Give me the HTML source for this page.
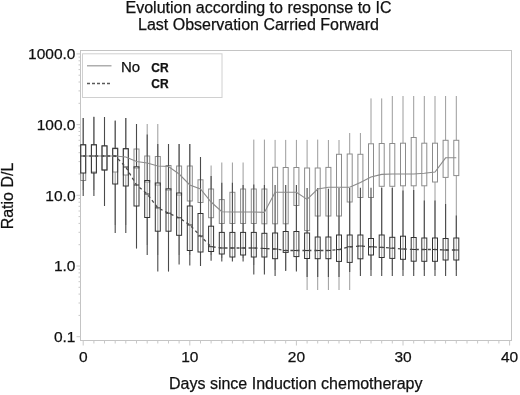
<!DOCTYPE html>
<html><head><meta charset="utf-8"><style>
html,body{margin:0;padding:0;background:#fff;}
body{width:520px;height:395px;position:relative;overflow:hidden;font-family:"Liberation Sans",sans-serif;color:#111;}
#w{position:absolute;left:0;top:0;width:520px;height:395px;background:#fff;filter:grayscale(1);}
.t{position:absolute;white-space:nowrap;line-height:1;-webkit-text-stroke:0.25px #111;}
svg{position:absolute;left:0;top:0;}
</style></head><body><div id="w">
<svg width="520" height="395" viewBox="0 0 520 395">
<rect x="80.5" y="50.5" width="431" height="290" fill="none" stroke="#c4c4c4" stroke-width="1"/>
<line x1="76.5" y1="336.7" x2="80.5" y2="336.7" stroke="#c8c8c8" stroke-width="1"/>
<line x1="78.5" y1="315.4" x2="80.5" y2="315.4" stroke="#c8c8c8" stroke-width="1"/>
<line x1="78.5" y1="303.0" x2="80.5" y2="303.0" stroke="#c8c8c8" stroke-width="1"/>
<line x1="78.5" y1="294.1" x2="80.5" y2="294.1" stroke="#c8c8c8" stroke-width="1"/>
<line x1="78.5" y1="287.3" x2="80.5" y2="287.3" stroke="#c8c8c8" stroke-width="1"/>
<line x1="78.5" y1="281.7" x2="80.5" y2="281.7" stroke="#c8c8c8" stroke-width="1"/>
<line x1="78.5" y1="277.0" x2="80.5" y2="277.0" stroke="#c8c8c8" stroke-width="1"/>
<line x1="78.5" y1="272.9" x2="80.5" y2="272.9" stroke="#c8c8c8" stroke-width="1"/>
<line x1="78.5" y1="269.2" x2="80.5" y2="269.2" stroke="#c8c8c8" stroke-width="1"/>
<line x1="76.5" y1="266.0" x2="80.5" y2="266.0" stroke="#c8c8c8" stroke-width="1"/>
<line x1="78.5" y1="244.7" x2="80.5" y2="244.7" stroke="#c8c8c8" stroke-width="1"/>
<line x1="78.5" y1="232.3" x2="80.5" y2="232.3" stroke="#c8c8c8" stroke-width="1"/>
<line x1="78.5" y1="223.4" x2="80.5" y2="223.4" stroke="#c8c8c8" stroke-width="1"/>
<line x1="78.5" y1="216.6" x2="80.5" y2="216.6" stroke="#c8c8c8" stroke-width="1"/>
<line x1="78.5" y1="211.0" x2="80.5" y2="211.0" stroke="#c8c8c8" stroke-width="1"/>
<line x1="78.5" y1="206.3" x2="80.5" y2="206.3" stroke="#c8c8c8" stroke-width="1"/>
<line x1="78.5" y1="202.2" x2="80.5" y2="202.2" stroke="#c8c8c8" stroke-width="1"/>
<line x1="78.5" y1="198.5" x2="80.5" y2="198.5" stroke="#c8c8c8" stroke-width="1"/>
<line x1="76.5" y1="195.3" x2="80.5" y2="195.3" stroke="#c8c8c8" stroke-width="1"/>
<line x1="78.5" y1="174.0" x2="80.5" y2="174.0" stroke="#c8c8c8" stroke-width="1"/>
<line x1="78.5" y1="161.6" x2="80.5" y2="161.6" stroke="#c8c8c8" stroke-width="1"/>
<line x1="78.5" y1="152.7" x2="80.5" y2="152.7" stroke="#c8c8c8" stroke-width="1"/>
<line x1="78.5" y1="145.9" x2="80.5" y2="145.9" stroke="#c8c8c8" stroke-width="1"/>
<line x1="78.5" y1="140.3" x2="80.5" y2="140.3" stroke="#c8c8c8" stroke-width="1"/>
<line x1="78.5" y1="135.6" x2="80.5" y2="135.6" stroke="#c8c8c8" stroke-width="1"/>
<line x1="78.5" y1="131.5" x2="80.5" y2="131.5" stroke="#c8c8c8" stroke-width="1"/>
<line x1="78.5" y1="127.8" x2="80.5" y2="127.8" stroke="#c8c8c8" stroke-width="1"/>
<line x1="76.5" y1="124.6" x2="80.5" y2="124.6" stroke="#c8c8c8" stroke-width="1"/>
<line x1="78.5" y1="103.3" x2="80.5" y2="103.3" stroke="#c8c8c8" stroke-width="1"/>
<line x1="78.5" y1="90.9" x2="80.5" y2="90.9" stroke="#c8c8c8" stroke-width="1"/>
<line x1="78.5" y1="82.0" x2="80.5" y2="82.0" stroke="#c8c8c8" stroke-width="1"/>
<line x1="78.5" y1="75.2" x2="80.5" y2="75.2" stroke="#c8c8c8" stroke-width="1"/>
<line x1="78.5" y1="69.6" x2="80.5" y2="69.6" stroke="#c8c8c8" stroke-width="1"/>
<line x1="78.5" y1="64.9" x2="80.5" y2="64.9" stroke="#c8c8c8" stroke-width="1"/>
<line x1="78.5" y1="60.8" x2="80.5" y2="60.8" stroke="#c8c8c8" stroke-width="1"/>
<line x1="78.5" y1="57.1" x2="80.5" y2="57.1" stroke="#c8c8c8" stroke-width="1"/>
<line x1="76.5" y1="53.9" x2="80.5" y2="53.9" stroke="#c8c8c8" stroke-width="1"/>
<line x1="83.2" y1="340.5" x2="83.2" y2="345.5" stroke="#c8c8c8" stroke-width="1"/>
<line x1="93.9" y1="340.5" x2="93.9" y2="343.5" stroke="#c8c8c8" stroke-width="1"/>
<line x1="104.5" y1="340.5" x2="104.5" y2="343.5" stroke="#c8c8c8" stroke-width="1"/>
<line x1="115.2" y1="340.5" x2="115.2" y2="343.5" stroke="#c8c8c8" stroke-width="1"/>
<line x1="125.8" y1="340.5" x2="125.8" y2="343.5" stroke="#c8c8c8" stroke-width="1"/>
<line x1="136.5" y1="340.5" x2="136.5" y2="343.5" stroke="#c8c8c8" stroke-width="1"/>
<line x1="147.2" y1="340.5" x2="147.2" y2="343.5" stroke="#c8c8c8" stroke-width="1"/>
<line x1="157.8" y1="340.5" x2="157.8" y2="343.5" stroke="#c8c8c8" stroke-width="1"/>
<line x1="168.5" y1="340.5" x2="168.5" y2="343.5" stroke="#c8c8c8" stroke-width="1"/>
<line x1="179.1" y1="340.5" x2="179.1" y2="343.5" stroke="#c8c8c8" stroke-width="1"/>
<line x1="189.8" y1="340.5" x2="189.8" y2="345.5" stroke="#c8c8c8" stroke-width="1"/>
<line x1="200.5" y1="340.5" x2="200.5" y2="343.5" stroke="#c8c8c8" stroke-width="1"/>
<line x1="211.1" y1="340.5" x2="211.1" y2="343.5" stroke="#c8c8c8" stroke-width="1"/>
<line x1="221.8" y1="340.5" x2="221.8" y2="343.5" stroke="#c8c8c8" stroke-width="1"/>
<line x1="232.4" y1="340.5" x2="232.4" y2="343.5" stroke="#c8c8c8" stroke-width="1"/>
<line x1="243.1" y1="340.5" x2="243.1" y2="343.5" stroke="#c8c8c8" stroke-width="1"/>
<line x1="253.8" y1="340.5" x2="253.8" y2="343.5" stroke="#c8c8c8" stroke-width="1"/>
<line x1="264.4" y1="340.5" x2="264.4" y2="343.5" stroke="#c8c8c8" stroke-width="1"/>
<line x1="275.1" y1="340.5" x2="275.1" y2="343.5" stroke="#c8c8c8" stroke-width="1"/>
<line x1="285.7" y1="340.5" x2="285.7" y2="343.5" stroke="#c8c8c8" stroke-width="1"/>
<line x1="296.4" y1="340.5" x2="296.4" y2="345.5" stroke="#c8c8c8" stroke-width="1"/>
<line x1="307.1" y1="340.5" x2="307.1" y2="343.5" stroke="#c8c8c8" stroke-width="1"/>
<line x1="317.7" y1="340.5" x2="317.7" y2="343.5" stroke="#c8c8c8" stroke-width="1"/>
<line x1="328.4" y1="340.5" x2="328.4" y2="343.5" stroke="#c8c8c8" stroke-width="1"/>
<line x1="339.0" y1="340.5" x2="339.0" y2="343.5" stroke="#c8c8c8" stroke-width="1"/>
<line x1="349.7" y1="340.5" x2="349.7" y2="343.5" stroke="#c8c8c8" stroke-width="1"/>
<line x1="360.4" y1="340.5" x2="360.4" y2="343.5" stroke="#c8c8c8" stroke-width="1"/>
<line x1="371.0" y1="340.5" x2="371.0" y2="343.5" stroke="#c8c8c8" stroke-width="1"/>
<line x1="381.7" y1="340.5" x2="381.7" y2="343.5" stroke="#c8c8c8" stroke-width="1"/>
<line x1="392.3" y1="340.5" x2="392.3" y2="343.5" stroke="#c8c8c8" stroke-width="1"/>
<line x1="403.0" y1="340.5" x2="403.0" y2="345.5" stroke="#c8c8c8" stroke-width="1"/>
<line x1="413.7" y1="340.5" x2="413.7" y2="343.5" stroke="#c8c8c8" stroke-width="1"/>
<line x1="424.3" y1="340.5" x2="424.3" y2="343.5" stroke="#c8c8c8" stroke-width="1"/>
<line x1="435.0" y1="340.5" x2="435.0" y2="343.5" stroke="#c8c8c8" stroke-width="1"/>
<line x1="445.6" y1="340.5" x2="445.6" y2="343.5" stroke="#c8c8c8" stroke-width="1"/>
<line x1="456.3" y1="340.5" x2="456.3" y2="343.5" stroke="#c8c8c8" stroke-width="1"/>
<line x1="467.0" y1="340.5" x2="467.0" y2="343.5" stroke="#c8c8c8" stroke-width="1"/>
<line x1="477.6" y1="340.5" x2="477.6" y2="343.5" stroke="#c8c8c8" stroke-width="1"/>
<line x1="488.3" y1="340.5" x2="488.3" y2="343.5" stroke="#c8c8c8" stroke-width="1"/>
<line x1="498.9" y1="340.5" x2="498.9" y2="343.5" stroke="#c8c8c8" stroke-width="1"/>
<line x1="509.6" y1="340.5" x2="509.6" y2="345.5" stroke="#c8c8c8" stroke-width="1"/>
<line x1="83.2" y1="118" x2="83.2" y2="145" stroke="#9c9c9c" stroke-width="1.0"/>
<line x1="83.2" y1="180.5" x2="83.2" y2="190" stroke="#9c9c9c" stroke-width="1.0"/>
<rect x="80.7" y="145" width="5.0" height="35.5" fill="#ffffff" stroke="#8c8c8c" stroke-width="1.0"/>
<line x1="93.9" y1="116.5" x2="93.9" y2="145" stroke="#9c9c9c" stroke-width="1.0"/>
<line x1="93.9" y1="172" x2="93.9" y2="190" stroke="#9c9c9c" stroke-width="1.0"/>
<rect x="91.4" y="145" width="5.0" height="27.0" fill="#ffffff" stroke="#8c8c8c" stroke-width="1.0"/>
<line x1="104.5" y1="117" x2="104.5" y2="146" stroke="#9c9c9c" stroke-width="1.0"/>
<line x1="104.5" y1="170" x2="104.5" y2="200" stroke="#9c9c9c" stroke-width="1.0"/>
<rect x="102.0" y="146" width="5.0" height="24.0" fill="#ffffff" stroke="#8c8c8c" stroke-width="1.0"/>
<line x1="115.2" y1="121" x2="115.2" y2="148" stroke="#9c9c9c" stroke-width="1.0"/>
<line x1="115.2" y1="172" x2="115.2" y2="225" stroke="#9c9c9c" stroke-width="1.0"/>
<rect x="112.7" y="148" width="5.0" height="24.0" fill="#ffffff" stroke="#8c8c8c" stroke-width="1.0"/>
<line x1="125.8" y1="118" x2="125.8" y2="149" stroke="#9c9c9c" stroke-width="1.0"/>
<line x1="125.8" y1="175" x2="125.8" y2="225" stroke="#9c9c9c" stroke-width="1.0"/>
<rect x="123.3" y="149" width="5.0" height="26.0" fill="#ffffff" stroke="#8c8c8c" stroke-width="1.0"/>
<line x1="136.5" y1="124" x2="136.5" y2="149" stroke="#9c9c9c" stroke-width="1.0"/>
<line x1="136.5" y1="168" x2="136.5" y2="235" stroke="#9c9c9c" stroke-width="1.0"/>
<rect x="134.0" y="149" width="5.0" height="19.0" fill="#ffffff" stroke="#8c8c8c" stroke-width="1.0"/>
<line x1="147.2" y1="124" x2="147.2" y2="156" stroke="#9c9c9c" stroke-width="1.0"/>
<line x1="147.2" y1="182" x2="147.2" y2="245" stroke="#9c9c9c" stroke-width="1.0"/>
<rect x="144.7" y="156" width="5.0" height="26.0" fill="#ffffff" stroke="#8c8c8c" stroke-width="1.0"/>
<line x1="157.8" y1="124" x2="157.8" y2="156.5" stroke="#9c9c9c" stroke-width="1.0"/>
<line x1="157.8" y1="185" x2="157.8" y2="255" stroke="#9c9c9c" stroke-width="1.0"/>
<rect x="155.3" y="156.5" width="5.0" height="28.5" fill="#ffffff" stroke="#8c8c8c" stroke-width="1.0"/>
<line x1="168.5" y1="144" x2="168.5" y2="165.5" stroke="#9c9c9c" stroke-width="1.0"/>
<line x1="168.5" y1="190" x2="168.5" y2="255" stroke="#9c9c9c" stroke-width="1.0"/>
<rect x="166.0" y="165.5" width="5.0" height="24.5" fill="#ffffff" stroke="#8c8c8c" stroke-width="1.0"/>
<line x1="179.1" y1="144" x2="179.1" y2="166" stroke="#9c9c9c" stroke-width="1.0"/>
<line x1="179.1" y1="195" x2="179.1" y2="255" stroke="#9c9c9c" stroke-width="1.0"/>
<rect x="176.6" y="166" width="5.0" height="29.0" fill="#ffffff" stroke="#8c8c8c" stroke-width="1.0"/>
<line x1="189.8" y1="144" x2="189.8" y2="166" stroke="#9c9c9c" stroke-width="1.0"/>
<line x1="189.8" y1="201" x2="189.8" y2="255" stroke="#9c9c9c" stroke-width="1.0"/>
<rect x="187.3" y="166" width="5.0" height="35.0" fill="#ffffff" stroke="#8c8c8c" stroke-width="1.0"/>
<line x1="200.5" y1="157" x2="200.5" y2="179.8" stroke="#9c9c9c" stroke-width="1.0"/>
<line x1="200.5" y1="202.5" x2="200.5" y2="255" stroke="#9c9c9c" stroke-width="1.0"/>
<rect x="198.0" y="179.8" width="5.0" height="22.7" fill="#ffffff" stroke="#8c8c8c" stroke-width="1.0"/>
<line x1="211.1" y1="165.5" x2="211.1" y2="189" stroke="#9c9c9c" stroke-width="1.0"/>
<line x1="211.1" y1="217.7" x2="211.1" y2="255" stroke="#9c9c9c" stroke-width="1.0"/>
<rect x="208.6" y="189" width="5.0" height="28.7" fill="#ffffff" stroke="#8c8c8c" stroke-width="1.0"/>
<line x1="221.8" y1="162.5" x2="221.8" y2="199.6" stroke="#9c9c9c" stroke-width="1.0"/>
<line x1="221.8" y1="223.5" x2="221.8" y2="258" stroke="#9c9c9c" stroke-width="1.0"/>
<rect x="219.3" y="199.6" width="5.0" height="23.9" fill="#ffffff" stroke="#8c8c8c" stroke-width="1.0"/>
<line x1="232.4" y1="162.5" x2="232.4" y2="192.3" stroke="#9c9c9c" stroke-width="1.0"/>
<line x1="232.4" y1="223.5" x2="232.4" y2="258" stroke="#9c9c9c" stroke-width="1.0"/>
<rect x="229.9" y="192.3" width="5.0" height="31.2" fill="#ffffff" stroke="#8c8c8c" stroke-width="1.0"/>
<line x1="243.1" y1="162.5" x2="243.1" y2="189" stroke="#9c9c9c" stroke-width="1.0"/>
<line x1="243.1" y1="223.5" x2="243.1" y2="258" stroke="#9c9c9c" stroke-width="1.0"/>
<rect x="240.6" y="189" width="5.0" height="34.5" fill="#ffffff" stroke="#8c8c8c" stroke-width="1.0"/>
<line x1="253.8" y1="139.6" x2="253.8" y2="189" stroke="#9c9c9c" stroke-width="1.0"/>
<line x1="253.8" y1="223.5" x2="253.8" y2="265" stroke="#9c9c9c" stroke-width="1.0"/>
<rect x="251.3" y="189" width="5.0" height="34.5" fill="#ffffff" stroke="#8c8c8c" stroke-width="1.0"/>
<line x1="264.4" y1="139.6" x2="264.4" y2="189" stroke="#9c9c9c" stroke-width="1.0"/>
<line x1="264.4" y1="223.8" x2="264.4" y2="270" stroke="#9c9c9c" stroke-width="1.0"/>
<rect x="261.9" y="189" width="5.0" height="34.8" fill="#ffffff" stroke="#8c8c8c" stroke-width="1.0"/>
<line x1="275.1" y1="139.9" x2="275.1" y2="167.3" stroke="#9c9c9c" stroke-width="1.0"/>
<line x1="275.1" y1="223.8" x2="275.1" y2="270" stroke="#9c9c9c" stroke-width="1.0"/>
<rect x="272.6" y="167.3" width="5.0" height="56.5" fill="#ffffff" stroke="#8c8c8c" stroke-width="1.0"/>
<line x1="285.7" y1="139.9" x2="285.7" y2="167.5" stroke="#9c9c9c" stroke-width="1.0"/>
<line x1="285.7" y1="223.8" x2="285.7" y2="270" stroke="#9c9c9c" stroke-width="1.0"/>
<rect x="283.2" y="167.5" width="5.0" height="56.3" fill="#ffffff" stroke="#8c8c8c" stroke-width="1.0"/>
<line x1="296.4" y1="139.9" x2="296.4" y2="167.5" stroke="#9c9c9c" stroke-width="1.0"/>
<line x1="296.4" y1="205.5" x2="296.4" y2="270" stroke="#9c9c9c" stroke-width="1.0"/>
<rect x="293.9" y="167.5" width="5.0" height="38.0" fill="#ffffff" stroke="#8c8c8c" stroke-width="1.0"/>
<line x1="307.1" y1="139.9" x2="307.1" y2="168" stroke="#9c9c9c" stroke-width="1.0"/>
<line x1="307.1" y1="230.6" x2="307.1" y2="290" stroke="#9c9c9c" stroke-width="1.0"/>
<rect x="304.6" y="168" width="5.0" height="62.6" fill="#ffffff" stroke="#8c8c8c" stroke-width="1.0"/>
<line x1="317.7" y1="139.6" x2="317.7" y2="168" stroke="#9c9c9c" stroke-width="1.0"/>
<line x1="317.7" y1="216" x2="317.7" y2="290" stroke="#9c9c9c" stroke-width="1.0"/>
<rect x="315.2" y="168" width="5.0" height="48.0" fill="#ffffff" stroke="#8c8c8c" stroke-width="1.0"/>
<line x1="328.4" y1="140" x2="328.4" y2="167.4" stroke="#9c9c9c" stroke-width="1.0"/>
<line x1="328.4" y1="216" x2="328.4" y2="290" stroke="#9c9c9c" stroke-width="1.0"/>
<rect x="325.9" y="167.4" width="5.0" height="48.6" fill="#ffffff" stroke="#8c8c8c" stroke-width="1.0"/>
<line x1="339.0" y1="140" x2="339.0" y2="154.3" stroke="#9c9c9c" stroke-width="1.0"/>
<line x1="339.0" y1="216" x2="339.0" y2="290" stroke="#9c9c9c" stroke-width="1.0"/>
<rect x="336.5" y="154.3" width="5.0" height="61.7" fill="#ffffff" stroke="#8c8c8c" stroke-width="1.0"/>
<line x1="349.7" y1="133" x2="349.7" y2="154" stroke="#9c9c9c" stroke-width="1.0"/>
<line x1="349.7" y1="202" x2="349.7" y2="290" stroke="#9c9c9c" stroke-width="1.0"/>
<rect x="347.2" y="154" width="5.0" height="48.0" fill="#ffffff" stroke="#8c8c8c" stroke-width="1.0"/>
<line x1="360.4" y1="133" x2="360.4" y2="154.3" stroke="#9c9c9c" stroke-width="1.0"/>
<line x1="360.4" y1="197.5" x2="360.4" y2="270" stroke="#9c9c9c" stroke-width="1.0"/>
<rect x="357.9" y="154.3" width="5.0" height="43.2" fill="#ffffff" stroke="#8c8c8c" stroke-width="1.0"/>
<line x1="371.0" y1="98.4" x2="371.0" y2="143.8" stroke="#9c9c9c" stroke-width="1.0"/>
<line x1="371.0" y1="197.5" x2="371.0" y2="270" stroke="#9c9c9c" stroke-width="1.0"/>
<rect x="368.5" y="143.8" width="5.0" height="53.7" fill="#ffffff" stroke="#8c8c8c" stroke-width="1.0"/>
<line x1="381.7" y1="98.4" x2="381.7" y2="143.5" stroke="#9c9c9c" stroke-width="1.0"/>
<line x1="381.7" y1="186.3" x2="381.7" y2="270" stroke="#9c9c9c" stroke-width="1.0"/>
<rect x="379.2" y="143.5" width="5.0" height="42.8" fill="#ffffff" stroke="#8c8c8c" stroke-width="1.0"/>
<line x1="392.3" y1="96" x2="392.3" y2="143.5" stroke="#9c9c9c" stroke-width="1.0"/>
<line x1="392.3" y1="186.3" x2="392.3" y2="270" stroke="#9c9c9c" stroke-width="1.0"/>
<rect x="389.8" y="143.5" width="5.0" height="42.8" fill="#ffffff" stroke="#8c8c8c" stroke-width="1.0"/>
<line x1="403.0" y1="96" x2="403.0" y2="143.2" stroke="#9c9c9c" stroke-width="1.0"/>
<line x1="403.0" y1="185.8" x2="403.0" y2="270" stroke="#9c9c9c" stroke-width="1.0"/>
<rect x="400.5" y="143.2" width="5.0" height="42.6" fill="#ffffff" stroke="#8c8c8c" stroke-width="1.0"/>
<line x1="413.7" y1="96" x2="413.7" y2="137.5" stroke="#9c9c9c" stroke-width="1.0"/>
<line x1="413.7" y1="185.8" x2="413.7" y2="270" stroke="#9c9c9c" stroke-width="1.0"/>
<rect x="411.2" y="137.5" width="5.0" height="48.3" fill="#ffffff" stroke="#8c8c8c" stroke-width="1.0"/>
<line x1="424.3" y1="96" x2="424.3" y2="143.2" stroke="#9c9c9c" stroke-width="1.0"/>
<line x1="424.3" y1="185.8" x2="424.3" y2="270" stroke="#9c9c9c" stroke-width="1.0"/>
<rect x="421.8" y="143.2" width="5.0" height="42.6" fill="#ffffff" stroke="#8c8c8c" stroke-width="1.0"/>
<line x1="435.0" y1="96" x2="435.0" y2="143.2" stroke="#9c9c9c" stroke-width="1.0"/>
<line x1="435.0" y1="182" x2="435.0" y2="270" stroke="#9c9c9c" stroke-width="1.0"/>
<rect x="432.5" y="143.2" width="5.0" height="38.8" fill="#ffffff" stroke="#8c8c8c" stroke-width="1.0"/>
<line x1="445.6" y1="96" x2="445.6" y2="140.3" stroke="#9c9c9c" stroke-width="1.0"/>
<line x1="445.6" y1="177.4" x2="445.6" y2="270" stroke="#9c9c9c" stroke-width="1.0"/>
<rect x="443.1" y="140.3" width="5.0" height="37.1" fill="#ffffff" stroke="#8c8c8c" stroke-width="1.0"/>
<line x1="456.3" y1="96" x2="456.3" y2="140.3" stroke="#9c9c9c" stroke-width="1.0"/>
<line x1="456.3" y1="175.6" x2="456.3" y2="270" stroke="#9c9c9c" stroke-width="1.0"/>
<rect x="453.8" y="140.3" width="5.0" height="35.3" fill="#ffffff" stroke="#8c8c8c" stroke-width="1.0"/>
<line x1="83.2" y1="118" x2="83.2" y2="144.7" stroke="#4a4a4a" stroke-width="1.1"/>
<line x1="83.2" y1="173" x2="83.2" y2="196" stroke="#4a4a4a" stroke-width="1.1"/>
<rect x="80.7" y="144.7" width="5.0" height="28.3" fill="none" stroke="#333333" stroke-width="1.0"/>
<line x1="80.7" y1="156" x2="85.7" y2="156" stroke="#333333" stroke-width="1"/>
<line x1="93.9" y1="117" x2="93.9" y2="144.7" stroke="#4a4a4a" stroke-width="1.1"/>
<line x1="93.9" y1="173" x2="93.9" y2="196" stroke="#4a4a4a" stroke-width="1.1"/>
<rect x="91.4" y="144.7" width="5.0" height="28.3" fill="none" stroke="#333333" stroke-width="1.0"/>
<line x1="91.4" y1="156" x2="96.4" y2="156" stroke="#333333" stroke-width="1"/>
<line x1="104.5" y1="117" x2="104.5" y2="145.8" stroke="#4a4a4a" stroke-width="1.1"/>
<line x1="104.5" y1="170" x2="104.5" y2="206" stroke="#4a4a4a" stroke-width="1.1"/>
<rect x="102.0" y="145.8" width="5.0" height="24.2" fill="none" stroke="#333333" stroke-width="1.0"/>
<line x1="102.0" y1="156" x2="107.0" y2="156" stroke="#333333" stroke-width="1"/>
<line x1="115.2" y1="120.6" x2="115.2" y2="148.6" stroke="#4a4a4a" stroke-width="1.1"/>
<line x1="115.2" y1="184" x2="115.2" y2="233" stroke="#4a4a4a" stroke-width="1.1"/>
<rect x="112.7" y="148.6" width="5.0" height="35.4" fill="none" stroke="#333333" stroke-width="1.0"/>
<line x1="112.7" y1="156" x2="117.7" y2="156" stroke="#333333" stroke-width="1"/>
<line x1="125.8" y1="118" x2="125.8" y2="148.6" stroke="#4a4a4a" stroke-width="1.1"/>
<line x1="125.8" y1="186" x2="125.8" y2="233" stroke="#4a4a4a" stroke-width="1.1"/>
<rect x="123.3" y="148.6" width="5.0" height="37.4" fill="none" stroke="#333333" stroke-width="1.0"/>
<line x1="123.3" y1="167" x2="128.3" y2="167" stroke="#333333" stroke-width="1"/>
<line x1="136.5" y1="124" x2="136.5" y2="166.8" stroke="#4a4a4a" stroke-width="1.1"/>
<line x1="136.5" y1="206" x2="136.5" y2="248.6" stroke="#4a4a4a" stroke-width="1.1"/>
<rect x="134.0" y="166.8" width="5.0" height="39.2" fill="none" stroke="#333333" stroke-width="1.0"/>
<line x1="134.0" y1="185" x2="139.0" y2="185" stroke="#333333" stroke-width="1"/>
<line x1="147.2" y1="134.5" x2="147.2" y2="180.5" stroke="#4a4a4a" stroke-width="1.1"/>
<line x1="147.2" y1="217.5" x2="147.2" y2="255" stroke="#4a4a4a" stroke-width="1.1"/>
<rect x="144.7" y="180.5" width="5.0" height="37.0" fill="none" stroke="#333333" stroke-width="1.0"/>
<line x1="144.7" y1="194" x2="149.7" y2="194" stroke="#333333" stroke-width="1"/>
<line x1="157.8" y1="144" x2="157.8" y2="183" stroke="#4a4a4a" stroke-width="1.1"/>
<line x1="157.8" y1="231.2" x2="157.8" y2="271.6" stroke="#4a4a4a" stroke-width="1.1"/>
<rect x="155.3" y="183" width="5.0" height="48.2" fill="none" stroke="#333333" stroke-width="1.0"/>
<line x1="155.3" y1="207.9" x2="160.3" y2="207.9" stroke="#333333" stroke-width="1"/>
<line x1="168.5" y1="144" x2="168.5" y2="188.8" stroke="#4a4a4a" stroke-width="1.1"/>
<line x1="168.5" y1="231.2" x2="168.5" y2="271.6" stroke="#4a4a4a" stroke-width="1.1"/>
<rect x="166.0" y="188.8" width="5.0" height="42.4" fill="none" stroke="#333333" stroke-width="1.0"/>
<line x1="166.0" y1="213.2" x2="171.0" y2="213.2" stroke="#333333" stroke-width="1"/>
<line x1="179.1" y1="144" x2="179.1" y2="193" stroke="#4a4a4a" stroke-width="1.1"/>
<line x1="179.1" y1="235.3" x2="179.1" y2="264.5" stroke="#4a4a4a" stroke-width="1.1"/>
<rect x="176.6" y="193" width="5.0" height="42.3" fill="none" stroke="#333333" stroke-width="1.0"/>
<line x1="176.6" y1="217.8" x2="181.6" y2="217.8" stroke="#333333" stroke-width="1"/>
<line x1="189.8" y1="144" x2="189.8" y2="206" stroke="#4a4a4a" stroke-width="1.1"/>
<line x1="189.8" y1="250.5" x2="189.8" y2="265.4" stroke="#4a4a4a" stroke-width="1.1"/>
<rect x="187.3" y="206" width="5.0" height="44.5" fill="none" stroke="#333333" stroke-width="1.0"/>
<line x1="187.3" y1="225" x2="192.3" y2="225" stroke="#333333" stroke-width="1"/>
<line x1="200.5" y1="157" x2="200.5" y2="213.5" stroke="#4a4a4a" stroke-width="1.1"/>
<line x1="200.5" y1="252" x2="200.5" y2="266" stroke="#4a4a4a" stroke-width="1.1"/>
<rect x="198.0" y="213.5" width="5.0" height="38.5" fill="none" stroke="#333333" stroke-width="1.0"/>
<line x1="198.0" y1="236" x2="203.0" y2="236" stroke="#333333" stroke-width="1"/>
<line x1="211.1" y1="176" x2="211.1" y2="226.2" stroke="#4a4a4a" stroke-width="1.1"/>
<line x1="211.1" y1="251.5" x2="211.1" y2="260.7" stroke="#4a4a4a" stroke-width="1.1"/>
<rect x="208.6" y="226.2" width="5.0" height="25.3" fill="none" stroke="#333333" stroke-width="1.0"/>
<line x1="208.6" y1="246.7" x2="213.6" y2="246.7" stroke="#333333" stroke-width="1"/>
<line x1="221.8" y1="182.8" x2="221.8" y2="232.4" stroke="#4a4a4a" stroke-width="1.1"/>
<line x1="221.8" y1="254" x2="221.8" y2="261.6" stroke="#4a4a4a" stroke-width="1.1"/>
<rect x="219.3" y="232.4" width="5.0" height="21.6" fill="none" stroke="#333333" stroke-width="1.0"/>
<line x1="219.3" y1="248" x2="224.3" y2="248" stroke="#333333" stroke-width="1"/>
<line x1="232.4" y1="182.7" x2="232.4" y2="232.4" stroke="#4a4a4a" stroke-width="1.1"/>
<line x1="232.4" y1="257" x2="232.4" y2="261.6" stroke="#4a4a4a" stroke-width="1.1"/>
<rect x="229.9" y="232.4" width="5.0" height="24.6" fill="none" stroke="#333333" stroke-width="1.0"/>
<line x1="229.9" y1="248" x2="234.9" y2="248" stroke="#333333" stroke-width="1"/>
<line x1="243.1" y1="185" x2="243.1" y2="232.4" stroke="#4a4a4a" stroke-width="1.1"/>
<line x1="243.1" y1="255" x2="243.1" y2="261.6" stroke="#4a4a4a" stroke-width="1.1"/>
<rect x="240.6" y="232.4" width="5.0" height="22.6" fill="none" stroke="#333333" stroke-width="1.0"/>
<line x1="240.6" y1="248" x2="245.6" y2="248" stroke="#333333" stroke-width="1"/>
<line x1="253.8" y1="184.6" x2="253.8" y2="232.4" stroke="#4a4a4a" stroke-width="1.1"/>
<line x1="253.8" y1="257" x2="253.8" y2="274.6" stroke="#4a4a4a" stroke-width="1.1"/>
<rect x="251.3" y="232.4" width="5.0" height="24.6" fill="none" stroke="#333333" stroke-width="1.0"/>
<line x1="251.3" y1="248" x2="256.3" y2="248" stroke="#333333" stroke-width="1"/>
<line x1="264.4" y1="185" x2="264.4" y2="233.3" stroke="#4a4a4a" stroke-width="1.1"/>
<line x1="264.4" y1="257" x2="264.4" y2="274.6" stroke="#4a4a4a" stroke-width="1.1"/>
<rect x="261.9" y="233.3" width="5.0" height="23.7" fill="none" stroke="#333333" stroke-width="1.0"/>
<line x1="261.9" y1="248.5" x2="266.9" y2="248.5" stroke="#333333" stroke-width="1"/>
<line x1="275.1" y1="185" x2="275.1" y2="233" stroke="#4a4a4a" stroke-width="1.1"/>
<line x1="275.1" y1="258.7" x2="275.1" y2="276" stroke="#4a4a4a" stroke-width="1.1"/>
<rect x="272.6" y="233" width="5.0" height="25.7" fill="none" stroke="#333333" stroke-width="1.0"/>
<line x1="272.6" y1="249" x2="277.6" y2="249" stroke="#333333" stroke-width="1"/>
<line x1="285.7" y1="185" x2="285.7" y2="231.5" stroke="#4a4a4a" stroke-width="1.1"/>
<line x1="285.7" y1="252.4" x2="285.7" y2="271" stroke="#4a4a4a" stroke-width="1.1"/>
<rect x="283.2" y="231.5" width="5.0" height="20.9" fill="none" stroke="#333333" stroke-width="1.0"/>
<line x1="283.2" y1="250.5" x2="288.2" y2="250.5" stroke="#333333" stroke-width="1"/>
<line x1="296.4" y1="185" x2="296.4" y2="231.5" stroke="#4a4a4a" stroke-width="1.1"/>
<line x1="296.4" y1="256.6" x2="296.4" y2="271.5" stroke="#4a4a4a" stroke-width="1.1"/>
<rect x="293.9" y="231.5" width="5.0" height="25.1" fill="none" stroke="#333333" stroke-width="1.0"/>
<line x1="293.9" y1="250.5" x2="298.9" y2="250.5" stroke="#333333" stroke-width="1"/>
<line x1="307.1" y1="188" x2="307.1" y2="233" stroke="#4a4a4a" stroke-width="1.1"/>
<line x1="307.1" y1="258.5" x2="307.1" y2="277" stroke="#4a4a4a" stroke-width="1.1"/>
<rect x="304.6" y="233" width="5.0" height="25.5" fill="none" stroke="#333333" stroke-width="1.0"/>
<line x1="304.6" y1="250.5" x2="309.6" y2="250.5" stroke="#333333" stroke-width="1"/>
<line x1="317.7" y1="188" x2="317.7" y2="237" stroke="#4a4a4a" stroke-width="1.1"/>
<line x1="317.7" y1="258.7" x2="317.7" y2="277" stroke="#4a4a4a" stroke-width="1.1"/>
<rect x="315.2" y="237" width="5.0" height="21.7" fill="none" stroke="#333333" stroke-width="1.0"/>
<line x1="315.2" y1="250.5" x2="320.2" y2="250.5" stroke="#333333" stroke-width="1"/>
<line x1="328.4" y1="188.7" x2="328.4" y2="237" stroke="#4a4a4a" stroke-width="1.1"/>
<line x1="328.4" y1="258.7" x2="328.4" y2="277" stroke="#4a4a4a" stroke-width="1.1"/>
<rect x="325.9" y="237" width="5.0" height="21.7" fill="none" stroke="#333333" stroke-width="1.0"/>
<line x1="325.9" y1="250.5" x2="330.9" y2="250.5" stroke="#333333" stroke-width="1"/>
<line x1="339.0" y1="188" x2="339.0" y2="235" stroke="#4a4a4a" stroke-width="1.1"/>
<line x1="339.0" y1="261.4" x2="339.0" y2="277" stroke="#4a4a4a" stroke-width="1.1"/>
<rect x="336.5" y="235" width="5.0" height="26.4" fill="none" stroke="#333333" stroke-width="1.0"/>
<line x1="336.5" y1="249.6" x2="341.5" y2="249.6" stroke="#333333" stroke-width="1"/>
<line x1="349.7" y1="188" x2="349.7" y2="235" stroke="#4a4a4a" stroke-width="1.1"/>
<line x1="349.7" y1="262.4" x2="349.7" y2="272" stroke="#4a4a4a" stroke-width="1.1"/>
<rect x="347.2" y="235" width="5.0" height="27.4" fill="none" stroke="#333333" stroke-width="1.0"/>
<line x1="347.2" y1="246.8" x2="352.2" y2="246.8" stroke="#333333" stroke-width="1"/>
<line x1="360.4" y1="187.7" x2="360.4" y2="235" stroke="#4a4a4a" stroke-width="1.1"/>
<line x1="360.4" y1="258.8" x2="360.4" y2="276" stroke="#4a4a4a" stroke-width="1.1"/>
<rect x="357.9" y="235" width="5.0" height="23.8" fill="none" stroke="#333333" stroke-width="1.0"/>
<line x1="357.9" y1="246" x2="362.9" y2="246" stroke="#333333" stroke-width="1"/>
<line x1="371.0" y1="187.7" x2="371.0" y2="238.5" stroke="#4a4a4a" stroke-width="1.1"/>
<line x1="371.0" y1="255" x2="371.0" y2="276" stroke="#4a4a4a" stroke-width="1.1"/>
<rect x="368.5" y="238.5" width="5.0" height="16.5" fill="none" stroke="#333333" stroke-width="1.0"/>
<line x1="368.5" y1="246.8" x2="373.5" y2="246.8" stroke="#333333" stroke-width="1"/>
<line x1="381.7" y1="188" x2="381.7" y2="235" stroke="#4a4a4a" stroke-width="1.1"/>
<line x1="381.7" y1="257.5" x2="381.7" y2="276" stroke="#4a4a4a" stroke-width="1.1"/>
<rect x="379.2" y="235" width="5.0" height="22.5" fill="none" stroke="#333333" stroke-width="1.0"/>
<line x1="379.2" y1="247.4" x2="384.2" y2="247.4" stroke="#333333" stroke-width="1"/>
<line x1="392.3" y1="188" x2="392.3" y2="237.3" stroke="#4a4a4a" stroke-width="1.1"/>
<line x1="392.3" y1="258.4" x2="392.3" y2="276" stroke="#4a4a4a" stroke-width="1.1"/>
<rect x="389.8" y="237.3" width="5.0" height="21.1" fill="none" stroke="#333333" stroke-width="1.0"/>
<line x1="389.8" y1="248.2" x2="394.8" y2="248.2" stroke="#333333" stroke-width="1"/>
<line x1="403.0" y1="190.4" x2="403.0" y2="236.2" stroke="#4a4a4a" stroke-width="1.1"/>
<line x1="403.0" y1="259.3" x2="403.0" y2="276" stroke="#4a4a4a" stroke-width="1.1"/>
<rect x="400.5" y="236.2" width="5.0" height="23.1" fill="none" stroke="#333333" stroke-width="1.0"/>
<line x1="400.5" y1="249" x2="405.5" y2="249" stroke="#333333" stroke-width="1"/>
<line x1="413.7" y1="190" x2="413.7" y2="237.5" stroke="#4a4a4a" stroke-width="1.1"/>
<line x1="413.7" y1="261.2" x2="413.7" y2="276" stroke="#4a4a4a" stroke-width="1.1"/>
<rect x="411.2" y="237.5" width="5.0" height="23.7" fill="none" stroke="#333333" stroke-width="1.0"/>
<line x1="411.2" y1="249.5" x2="416.2" y2="249.5" stroke="#333333" stroke-width="1"/>
<line x1="424.3" y1="200.6" x2="424.3" y2="238" stroke="#4a4a4a" stroke-width="1.1"/>
<line x1="424.3" y1="261.3" x2="424.3" y2="276" stroke="#4a4a4a" stroke-width="1.1"/>
<rect x="421.8" y="238" width="5.0" height="23.3" fill="none" stroke="#333333" stroke-width="1.0"/>
<line x1="421.8" y1="249.5" x2="426.8" y2="249.5" stroke="#333333" stroke-width="1"/>
<line x1="435.0" y1="200.6" x2="435.0" y2="238" stroke="#4a4a4a" stroke-width="1.1"/>
<line x1="435.0" y1="261.3" x2="435.0" y2="276" stroke="#4a4a4a" stroke-width="1.1"/>
<rect x="432.5" y="238" width="5.0" height="23.3" fill="none" stroke="#333333" stroke-width="1.0"/>
<line x1="432.5" y1="249.5" x2="437.5" y2="249.5" stroke="#333333" stroke-width="1"/>
<line x1="445.6" y1="204" x2="445.6" y2="238.5" stroke="#4a4a4a" stroke-width="1.1"/>
<line x1="445.6" y1="260" x2="445.6" y2="276" stroke="#4a4a4a" stroke-width="1.1"/>
<rect x="443.1" y="238.5" width="5.0" height="21.5" fill="none" stroke="#333333" stroke-width="1.0"/>
<line x1="443.1" y1="250" x2="448.1" y2="250" stroke="#333333" stroke-width="1"/>
<line x1="456.3" y1="215.4" x2="456.3" y2="238" stroke="#4a4a4a" stroke-width="1.1"/>
<line x1="456.3" y1="260" x2="456.3" y2="276" stroke="#4a4a4a" stroke-width="1.1"/>
<rect x="453.8" y="238" width="5.0" height="22.0" fill="none" stroke="#333333" stroke-width="1.0"/>
<line x1="453.8" y1="250" x2="458.8" y2="250" stroke="#333333" stroke-width="1"/>
<polyline points="83.2,156 93.9,156 104.5,156 115.2,156 125.8,157 136.5,161.5 147.2,163 157.8,166 168.5,166.5 179.1,174 189.8,185 200.5,189 211.1,202 221.8,211.7 232.4,212 243.1,212 253.8,212 264.4,212.4 275.1,192.3 285.7,192.3 296.4,192.3 307.1,199.4 317.7,189 328.4,187.3 339.0,187.3 349.7,187.3 360.4,182.5 371.0,177 381.7,174.4 392.3,174 403.0,174 413.7,174 424.3,173.3 435.0,172 445.6,157.8 456.3,157.8" fill="none" stroke="#8a8a8a" stroke-width="1.1"/>
<polyline points="83.2,156 93.9,156 104.5,156 115.2,156 125.8,167 136.5,185 147.2,194 157.8,207.9 168.5,213.2 179.1,217.8 189.8,225 200.5,236 211.1,246.7 221.8,248 232.4,248 243.1,248 253.8,248 264.4,248.5 275.1,249 285.7,250.5 296.4,250.5 307.1,250.5 317.7,250.5 328.4,250.5 339.0,249.6 349.7,246.8 360.4,246 371.0,246.8 381.7,247.4 392.3,248.2 403.0,249 413.7,249.5 424.3,249.5 435.0,249.5 445.6,250 456.3,250" fill="none" stroke="#4a4a4a" stroke-width="1.3" stroke-dasharray="3,3"/>
<rect x="82.5" y="53.8" width="139.5" height="43.7" fill="#fff" stroke="#d0d0d0" stroke-width="1"/>
<line x1="87" y1="65.8" x2="111.5" y2="65.8" stroke="#9a9a9a" stroke-width="1.2"/>
<line x1="87" y1="83.5" x2="111.5" y2="83.5" stroke="#5a5a5a" stroke-width="1.3" stroke-dasharray="3,2"/>
</svg>
<div class="t" style="left:0;width:517px;text-align:center;top:-0.5px;font-size:16px;">Evolution according to response to IC</div>
<div class="t" style="left:0;width:517px;text-align:center;top:16.5px;font-size:16px;">Last Observation Carried Forward</div>
<div class="t" style="right:444.5px;top:46.3px;font-size:15.5px;">1000.0</div>
<div class="t" style="right:444.5px;top:117.0px;font-size:15.5px;">100.0</div>
<div class="t" style="right:444.5px;top:187.7px;font-size:15.5px;">10.0</div>
<div class="t" style="right:444.5px;top:258.4px;font-size:15.5px;">1.0</div>
<div class="t" style="right:444.5px;top:329.1px;font-size:15.5px;">0.1</div>
<div class="t" style="left:63.2px;width:40px;text-align:center;top:348.9px;font-size:15.5px;">0</div>
<div class="t" style="left:169.8px;width:40px;text-align:center;top:348.9px;font-size:15.5px;">10</div>
<div class="t" style="left:276.4px;width:40px;text-align:center;top:348.9px;font-size:15.5px;">20</div>
<div class="t" style="left:383.0px;width:40px;text-align:center;top:348.9px;font-size:15.5px;">30</div>
<div class="t" style="left:489.6px;width:40px;text-align:center;top:348.9px;font-size:15.5px;">40</div>
<div class="t" style="left:169px;top:376px;font-size:16px;">Days since Induction chemotherapy</div>
<div class="t" style="left:-25.5px;top:187.5px;font-size:16px;transform:rotate(-90deg);">Ratio D/L</div>
<div class="t" style="left:120.9px;top:59.2px;font-size:15px;">No</div>
<div class="t" style="left:151.3px;top:61.8px;font-size:12px;font-weight:bold;">CR</div>
<div class="t" style="left:151.3px;top:78.4px;font-size:12px;font-weight:bold;">CR</div>
</div></body></html>
